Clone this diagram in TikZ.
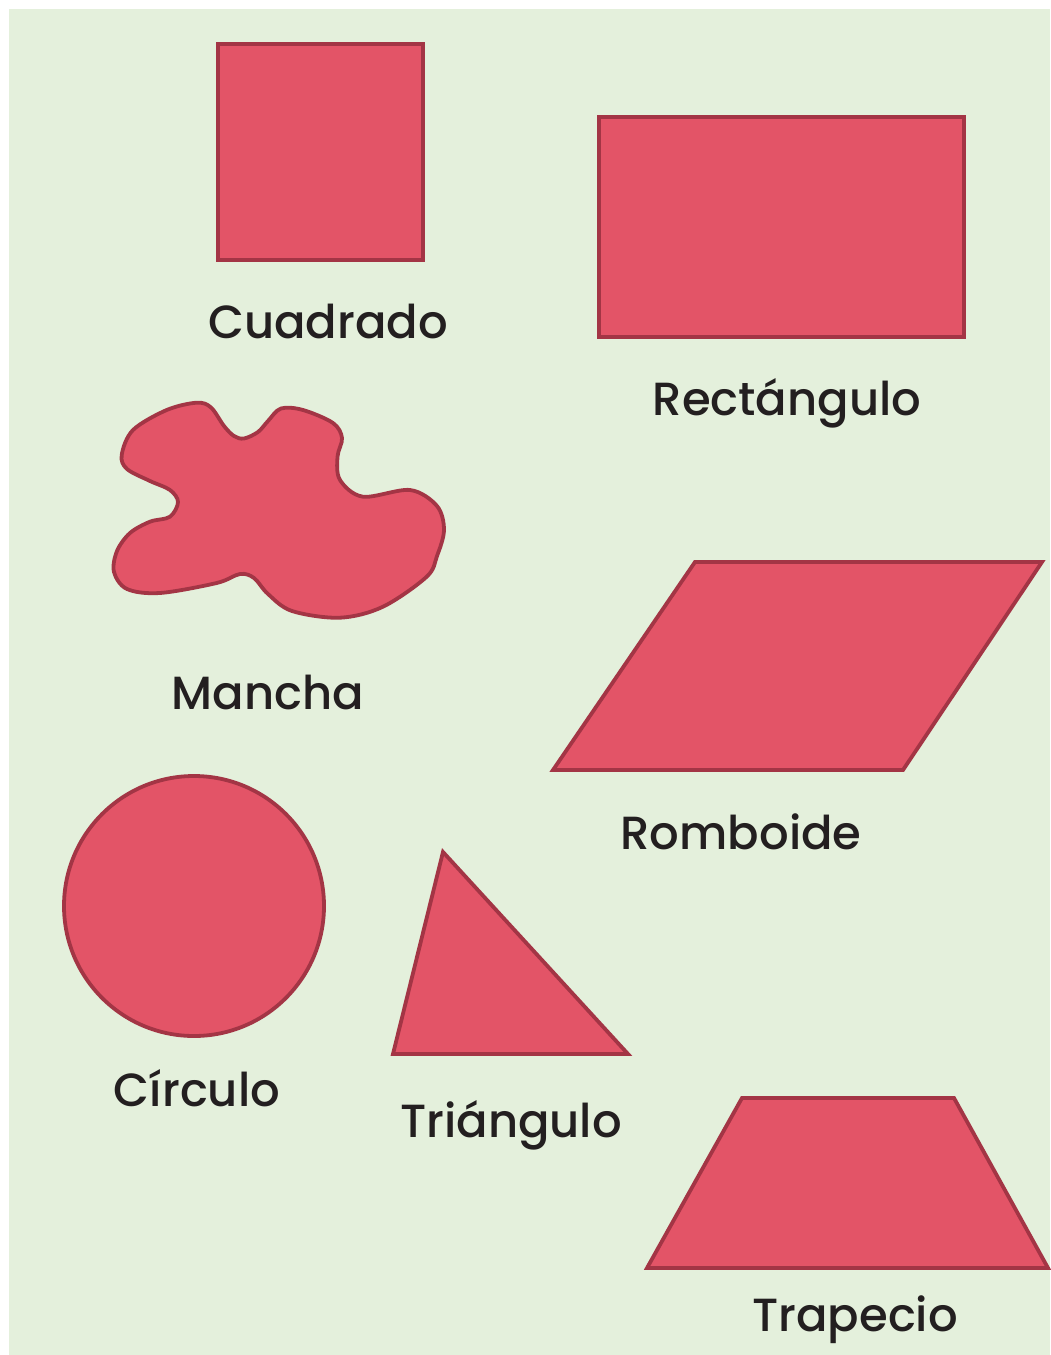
\documentclass[tikz,border=0pt]{standalone}
\usepackage{fontspec}
\setmainfont{Poppins}[UprightFont=* Medium]
\definecolor{bgc}{RGB}{228,240,220}
\definecolor{fillc}{RGB}{227,84,103}
\definecolor{edgec}{RGB}{163,53,69}
\definecolor{txtc}{RGB}{35,31,32}
\begin{document}
\begin{tikzpicture}[x=1pt,y=-1pt,
  shapestyle/.style={fill=fillc,draw=edgec,line width=3.8pt,line join=miter},
  lbl/.style={anchor=base,inner sep=0pt,text=txtc,font=\fontsize{46.5}{52}\selectfont}]
\useasboundingbox (0,0) rectangle (1050,1355);
\fill[bgc] (9,9) rectangle (1050,1355);
% square
\draw[shapestyle] (218,44) rectangle (423,260);
\node[lbl] (lcuad) at (328,338) {Cuadrado};
% rectangle
\draw[shapestyle] (599,117) rectangle (964,337);
\node[lbl] (lrect) at (787,415) {Rectángulo};
% blob
\draw[shapestyle] plot[smooth cycle,tension=0.55] coordinates {
 (196.7,402.7) (211,407.5) (224,426) (234,436) (244,438.5) (258,432) (268,421) (281,408.5)
 (303,410) (333,423) (342,438) (337.5,456.7) (340,480) (363,496.7)
 (410,490) (437,506) (444,530) (437,556) (426.7,576.7) (383,606.7) (340,617.7)
 (292,611) (268,594) (254,578) (240,574) (216.7,583) (160,593) (127,589)
 (114,572) (117,551) (130,533) (150,521.7) (170,516.7) (178,502) (170,490)
 (150,481) (127,469) (121.7,455) (133,430) (166.7,410)};
\node[lbl] (lmancha) at (268,709) {Mancha};
% parallelogram
\draw[shapestyle] (695,562) -- (1042,562) -- (903,770) -- (553,770) -- cycle;
\node[lbl] (lromb) at (741,849) {Romboide};
% circle
\draw[shapestyle] (194,906) circle[radius=130];
\node[lbl] (lcirc) at (197,1106) {Círculo};
% triangle
\draw[shapestyle] (443,852) -- (628,1054) -- (393,1054) -- cycle;
\node[lbl] (ltri) at (511,1137) {Triángulo};
% trapezoid
\draw[shapestyle] (742,1098) -- (954,1098) -- (1048,1268) -- (647,1268) -- cycle;
\node[lbl] (ltrap) at (855,1331) {Trapecio};
\end{tikzpicture}
\end{document}
